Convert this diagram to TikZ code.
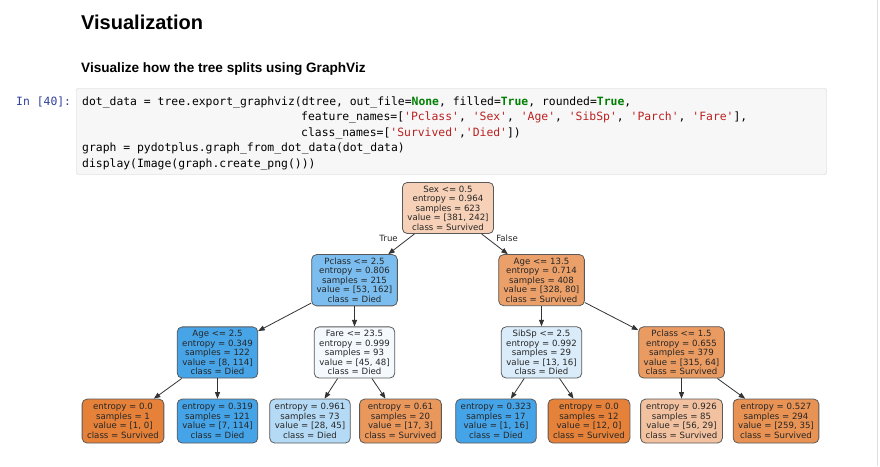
\documentclass[tikz,border=0pt]{standalone}
\usepackage{fontspec}
\setmainfont{Liberation Sans}
\newfontfamily\codefont{DejaVu Sans Mono}
\newfontfamily\treefont{DejaVu Sans}
\usepackage{xcolor}
\usetikzlibrary{arrows.meta, positioning}

\definecolor{promptblue}{HTML}{303F9F}
\definecolor{kwgreen}{HTML}{008000}
\definecolor{strred}{HTML}{BA2121}
\definecolor{cellfill}{HTML}{F7F7F7}
\definecolor{cellline}{HTML}{CFCFCF}
% node colours (class colour blended with white)
\definecolor{cRoot}{HTML}{F6D1B7}
\definecolor{cPcA}{HTML}{7ABDEE}
\definecolor{cAgeA}{HTML}{EBA069}
\definecolor{cAgeB}{HTML}{47A4E7}
\definecolor{cFare}{HTML}{F3F9FD}
\definecolor{cSib}{HTML}{DAECFA}
\definecolor{cPcB}{HTML}{EA9B61}
\definecolor{cSurv}{HTML}{E58139}
\definecolor{cDied}{HTML}{45A3E7}
\definecolor{cLfC}{HTML}{B4DAF5}
\definecolor{cLfD}{HTML}{EA975C}
\definecolor{cLfG}{HTML}{F2C2A0}
\definecolor{cLfH}{HTML}{E89254}

\newcommand{\pykw}[1]{\textcolor{kwgreen}{\bfseries #1}}
\newcommand{\pystr}[1]{\textcolor{strred}{\textquotesingle#1\textquotesingle}}

\begin{document}
\begin{tikzpicture}[
    x=1pt, y=-1pt,
    node distance=20.2pt,
    code/.style={anchor=base west, inner sep=0pt, font=\codefont\fontsize{11.4}{13}\selectfont\frenchspacing},
    split/.style={rectangle, rounded corners=5pt, draw=black!65, line width=0.8pt, fill=#1, align=center,
        text=black!85, inner xsep=5pt, minimum height=51pt, font=\treefont\fontsize{8.6}{9.5}\selectfont},
    leaf/.style={split=#1, minimum height=44pt},
    arrow/.style={-{Triangle[length=6.5pt, width=5pt]}, draw=black!80, line width=0.8pt},
    edgelabel/.style={inner sep=0pt, text=black!85, font=\treefont\fontsize{8.6}{9.5}\selectfont}
]
\useasboundingbox (0,0) rectangle (880,466);
\draw[black!12, line width=1pt] (877,0) -- (877,466);

% headings
\node[anchor=base west, inner sep=0pt, font=\fontsize{20}{24}\selectfont\bfseries] (title) at (81,29.5) {Visualization};
\node[anchor=base west, inner sep=0pt, font=\fontsize{13.6}{16}\selectfont\bfseries] (subtitle) at (81,72.5) {Visualize how the tree splits using GraphViz};

% code cell
\draw[cellline, fill=cellfill, rounded corners=2pt] (76.5,88.5) rectangle (826.5,174.5);
\node[code, text=promptblue] (prompt) at (16,105) {In [40]:};
\node[code] (c1) at (82,105) {dot\_data = tree.export\_graphviz(dtree, out\_file=\pykw{None}, filled=\pykw{True}, rounded=\pykw{True},};
\node[code] (c2) at (301,120.5) {feature\_names=[\pystr{Pclass}, \pystr{Sex}, \pystr{Age}, \pystr{SibSp}, \pystr{Parch}, \pystr{Fare}],};
\node[code] (c3) at (301,136) {class\_names=[\pystr{Survived},\pystr{Died}])};
\node[code] (c4) at (82,151.5) {graph = pydotplus.graph\_from\_dot\_data(dot\_data)};
\node[code] (c5) at (82,167) {display(Image(graph.create\_png()))};

% tree
\node (root) [split=cRoot, anchor=north] at (448,182) {Sex <= 0.5\\entropy = 0.964\\samples = 623\\value = [381, 242]\\class = Survived};
\node (pcA) [split=cPcA, below=of root, xshift=-93.5pt] {Pclass <= 2.5\\entropy = 0.806\\samples = 215\\value = [53, 162]\\class = Died};
\node (ageA) [split=cAgeA, below=of root, xshift=93.5pt] {Age <= 13.5\\entropy = 0.714\\samples = 408\\value = [328, 80]\\class = Survived};
\node (ageB) [split=cAgeB, below=of pcA, xshift=-137pt] {Age <= 2.5\\entropy = 0.349\\samples = 122\\value = [8, 114]\\class = Died};
\node (fare) [split=cFare, below=of pcA] {Fare <= 23.5\\entropy = 0.999\\samples = 93\\value = [45, 48]\\class = Died};
\node (sib) [split=cSib, below=of ageA] {SibSp <= 2.5\\entropy = 0.992\\samples = 29\\value = [13, 16]\\class = Died};
\node (pcB) [split=cPcB, below=of ageA, xshift=140pt] {Pclass <= 1.5\\entropy = 0.655\\samples = 379\\value = [315, 64]\\class = Survived};

\node (lf1) [leaf=cSurv, below=of ageB, xshift=-94.5pt] {entropy = 0.0\\samples = 1\\value = [1, 0]\\class = Survived};
\node (lf2) [leaf=cDied, below=of ageB] {entropy = 0.319\\samples = 121\\value = [7, 114]\\class = Died};
\node (lf3) [leaf=cLfC, below=of fare, xshift=-44.5pt] {entropy = 0.961\\samples = 73\\value = [28, 45]\\class = Died};
\node (lf4) [leaf=cLfD, below=of fare, xshift=46pt] {entropy = 0.61\\samples = 20\\value = [17, 3]\\class = Survived};
\node (lf5) [leaf=cDied, below=of sib, xshift=-45.5pt] {entropy = 0.323\\samples = 17\\value = [1, 16]\\class = Died};
\node (lf6) [leaf=cSurv, below=of sib, xshift=47.5pt] {entropy = 0.0\\samples = 12\\value = [12, 0]\\class = Survived};
\node (lf7) [leaf=cLfG, below=of pcB] {entropy = 0.926\\samples = 85\\value = [56, 29]\\class = Survived};
\node (lf8) [leaf=cLfH, below=of pcB, xshift=94.5pt] {entropy = 0.527\\samples = 294\\value = [259, 35]\\class = Survived};

\draw [arrow] (root) -- node[edgelabel, pos=0.2, left=11pt] {True} (pcA);
\draw [arrow] (root) -- node[edgelabel, pos=0.2, right=9pt] {False} (ageA);
\draw [arrow] (pcA) -- (ageB);
\draw [arrow] (pcA) -- (fare);
\draw [arrow] (ageA) -- (sib);
\draw [arrow] (ageA) -- (pcB);
\draw [arrow] (ageB) -- (lf1);
\draw [arrow] (ageB) -- (lf2);
\draw [arrow] (fare) -- (lf3);
\draw [arrow] (fare) -- (lf4);
\draw [arrow] (sib) -- (lf5);
\draw [arrow] (sib) -- (lf6);
\draw [arrow] (pcB) -- (lf7);
\draw [arrow] (pcB) -- (lf8);

\end{tikzpicture}
\end{document}
